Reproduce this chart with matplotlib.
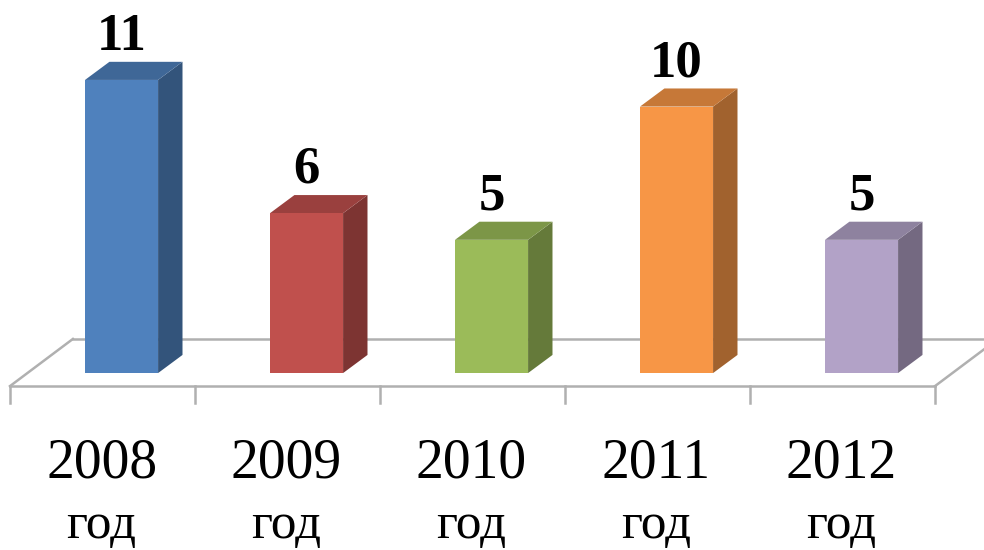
import matplotlib
matplotlib.use('Agg')
import matplotlib.pyplot as plt
from matplotlib.patches import Polygon
from matplotlib.colors import to_rgb
import numpy as np

years = ['2008', '2009', '2010', '2011', '2012']
unit = 'год'
values = [11, 6, 5, 10, 5]
colors = ['#4F81BD', '#C0504D', '#9BBB59', '#F79646', '#B2A2C7']

# geometry in data units (x = category, y = value)
bar_w = 0.395
dep_x, dep_y = 0.132, 0.68
floor_dx, floor_dy = 0.34, 1.77
floor_front = -0.49

def shade(c, f):
    r, g, b = to_rgb(c)
    return (r * f, g * f, b * f)

fig = plt.figure(figsize=(9.84, 5.5), dpi=100)
ax = fig.add_axes([0, 0, 1, 1])
ax.set_xlim(-0.657, 4.662)
ax.set_ylim(-6.64, 14.0)
ax.axis('off')

n = len(values)
fl, fr = -0.603, n - 0.603
gray = '#B0B0B0'
# floor
ax.plot([fl, fr], [floor_front, floor_front], color=gray, lw=1.8, zorder=1)
ax.plot([fl, fl + floor_dx], [floor_front, floor_front + floor_dy], color=gray, lw=1.8, zorder=1)
ax.plot([fl + floor_dx, fr + floor_dx], [floor_front + floor_dy] * 2, color=gray, lw=1.8, zorder=1)
ax.plot([fr, fr + floor_dx], [floor_front, floor_front + floor_dy], color=gray, lw=1.8, zorder=1)
for k in range(n + 1):
    ax.plot([fl + k, fl + k], [floor_front, -1.13], color=gray, lw=1.8, zorder=1)

for i, (v, c) in enumerate(zip(values, colors)):
    x0, x1 = i - bar_w / 2, i + bar_w / 2
    front = [(x0, 0), (x1, 0), (x1, v), (x0, v)]
    side = [(x1, 0), (x1 + dep_x, dep_y), (x1 + dep_x, v + dep_y), (x1, v)]
    top = [(x0, v), (x1, v), (x1 + dep_x, v + dep_y), (x0 + dep_x, v + dep_y)]
    ax.add_patch(Polygon(side, closed=True, fc=shade(c, 0.65), ec='none', zorder=3))
    ax.add_patch(Polygon(top, closed=True, fc=shade(c, 0.8), ec='none', zorder=3))
    ax.add_patch(Polygon(front, closed=True, fc=c, ec='none', zorder=4))
    ax.text(i, v + dep_y + 0.95, str(v), ha='center', va='center',
            fontsize=38, fontweight='bold', family='Liberation Serif', zorder=5)
    ax.text(i - 0.108, -3.4, years[i], ha='center', va='center',
            fontsize=40, family='Liberation Serif')
    ax.text(i - 0.108, -6.6, unit, ha='center', va='bottom',
            fontsize=37, family='Liberation Serif')

fig.savefig('out.png', dpi=100)
